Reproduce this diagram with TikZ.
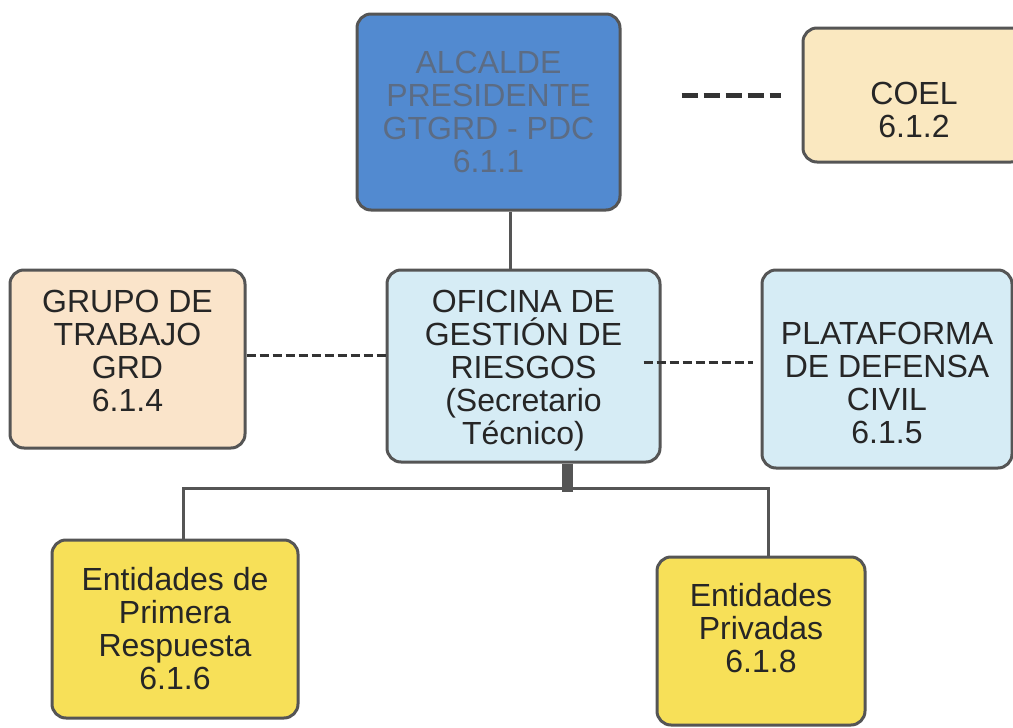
\documentclass[tikz,border=0pt]{standalone}
\usepackage{fontspec}
\setmainfont{Liberation Sans}
\usetikzlibrary{positioning}
\definecolor{edgegray}{RGB}{85,85,85}
\definecolor{alcaldeblue}{RGB}{82,138,208}
\definecolor{alcaldetext}{RGB}{92,108,132}
\definecolor{coelfill}{RGB}{250,232,192}
\definecolor{grupofill}{RGB}{250,228,202}
\definecolor{oficinafill}{RGB}{214,236,245}
\definecolor{entfill}{RGB}{247,224,88}
\tikzset{orgbox/.style={rounded corners=14, draw=edgegray, line width=3pt, align=center, font=\fontsize{32}{33}\selectfont, text=black!85, inner sep=0pt}}
\tikzset{link/.style={draw=edgegray, line width=3pt}}
\tikzset{dashlink/.style={draw=black!80, line width=3pt, dash pattern=on 9pt off 4pt}}

\begin{document}
\begin{tikzpicture}[x=1pt, y=-1pt]
        \useasboundingbox (0,0) rectangle (1013,728);
        \node[orgbox, fill=alcaldeblue, text=alcaldetext, minimum width=263, minimum height=196] (alcalde) at (488.5,112) {ALCALDE\\PRESIDENTE\\GTGRD - PDC\\6.1.1};
        \node[orgbox, fill=coelfill, minimum width=222, minimum height=134, text height=86pt] (coel) at (914,95) {COEL\\6.1.2};
        \node[orgbox, fill=grupofill, minimum width=235, minimum height=178, text depth=16pt] (grupo) at (127.5,359) {GRUPO DE\\TRABAJO\\GRD\\6.1.4};
        \node[orgbox, fill=oficinafill, minimum width=273, minimum height=192, text height=163pt] (oficina) at (523.5,366) {OFICINA DE\\GESTIÓN DE\\RIESGOS\\(Secretario\\Técnico)};
        \node[orgbox, fill=oficinafill, minimum width=250, minimum height=198, text height=150pt] (plataforma) at (887,369) {PLATAFORMA\\DE DEFENSA\\CIVIL\\6.1.5};
        \node[orgbox, fill=entfill, minimum width=246, minimum height=178] (primera) at (175,629) {Entidades de\\Primera\\Respuesta\\6.1.6};
        \node[orgbox, fill=entfill, minimum width=208, minimum height=168, text depth=26pt] (privadas) at (761,641) {Entidades\\Privadas\\6.1.8};

        \coordinate (bus) at (567,488);

        \draw[link] ([xshift=22]alcalde.south) -- ([xshift=22]alcalde.south |- oficina.north);
        \draw[dashlink, line width=5pt, dash pattern=on 16pt off 6pt] ([xshift=60]alcalde.east |- coel.west) -- ([xshift=-21]coel.west);
        \draw[dashlink] (grupo.east |- 0,355) -- (oficina.west |- 0,355);
        \draw[dashlink, shorten <=-18pt] (oficina.east |- 0,362) -- ([xshift=-8]plataforma.west |- 0,362);
        \draw[draw=edgegray, line width=11pt] (oficina.south -| bus) -- ([yshift=-4]bus);
        \draw[link] ([xshift=8]primera.north) |- (bus) -| ([xshift=7]privadas.north);
    \end{tikzpicture}
\end{document}
